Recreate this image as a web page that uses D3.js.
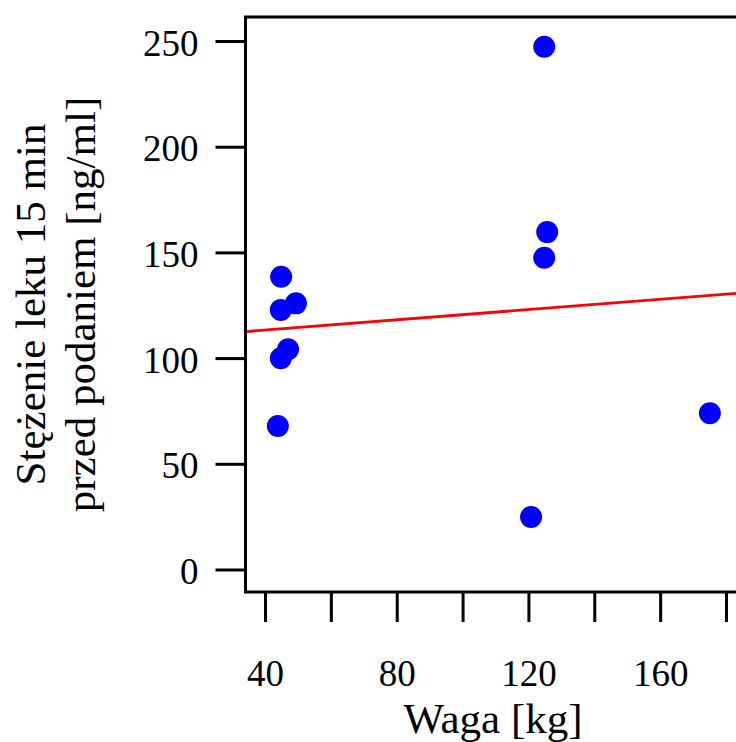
<!DOCTYPE html>
<html>
<head>
<meta charset="utf-8">
<script src="https://cdn.jsdelivr.net/npm/d3@7"></script>
<style>
  html, body { margin: 0; padding: 0; background: #fff; }
  svg { display: block; }
</style>
</head>
<body>
<svg id="chart" width="736" height="742"></svg>
<script>
// Body weight (kg) and drug concentration 15 min before dosing (ng/ml)
const weightKg = [43.9, 44.9, 44.8, 49.4, 47.0, 44.8, 120.8, 124.8, 125.7, 124.8, 175.1];
const concNgMl = [67.9, 138.5, 122.8, 125.9, 104.2, 99.9, 24.8, 247.3, 159.6, 147.5, 73.9];

// Fitted straight line: [intercept, slope]
const fitLine = [108.4, 0.1214];

const xTicks = [40, 60, 80, 100, 120, 140, 160, 180];
const xTickLabels = ["40", "", "80", "", "120", "", "160", ""];
const yTicks = [0, 50, 100, 150, 200, 250];
const yTickLabels = ["0", "50", "100", "150", "200", "250"];

const xTitle = "Waga [kg]";
const yTitleLines = ["Stężenie leku 15 min", "przed podaniem [ng/ml]"];

const W = 736, H = 742;
const frame = { left: 245.5, top: 17, right: 770, bottom: 592 };
const serif = "'Liberation Serif', 'Times New Roman', 'DejaVu Serif', serif";

const x = d3.scaleLinear().domain([40, 180]).range([265, 726]);
const y = d3.scaleLinear().domain([0, 250]).range([569.5, 41]);

const svg = d3.select("#chart");

// Regression line across the plotting region
const x0 = x.invert(frame.left), x1 = x.invert(W + 5);
svg.append("line")
  .attr("x1", x(x0)).attr("y1", y(fitLine[0] + fitLine[1] * x0))
  .attr("x2", x(x1)).attr("y2", y(fitLine[0] + fitLine[1] * x1))
  .attr("stroke", "#ff0000")
  .attr("stroke-width", 2.8);

// Points
svg.append("g")
  .selectAll("circle")
  .data(weightKg.map((w, i) => [w, concNgMl[i]]))
  .join("circle")
  .attr("cx", d => x(d[0]))
  .attr("cy", d => y(d[1]))
  .attr("r", 11)
  .attr("fill", "#0000ff");

// Box around the plot
svg.append("rect")
  .attr("x", frame.left).attr("y", frame.top)
  .attr("width", frame.right - frame.left)
  .attr("height", frame.bottom - frame.top)
  .attr("fill", "none")
  .attr("stroke", "#000")
  .attr("stroke-width", 3);

// Y axis
const yAxis = svg.append("g")
  .attr("transform", `translate(${frame.left},0)`)
  .call(d3.axisLeft(y).tickValues(yTicks).tickSize(30).tickPadding(17)
    .tickFormat((d, i) => yTickLabels[i]));
yAxis.select(".domain").remove();
yAxis.selectAll(".tick line").attr("stroke", "#000").attr("stroke-width", 3);
yAxis.selectAll(".tick text")
  .attr("dy", null).attr("y", 14)
  .attr("fill", "#000")
  .style("font-family", serif).style("font-size", "37px");

// X axis
const xAxis = svg.append("g")
  .attr("transform", `translate(0,${frame.bottom})`)
  .call(d3.axisBottom(x).tickValues(xTicks).tickSize(30)
    .tickFormat((d, i) => xTickLabels[i]));
xAxis.select(".domain").remove();
xAxis.selectAll(".tick line").attr("stroke", "#000").attr("stroke-width", 3);
xAxis.selectAll(".tick text")
  .attr("dy", null).attr("y", 94)
  .attr("fill", "#000")
  .style("font-family", serif).style("font-size", "37px");

// Axis titles
svg.append("text")
  .attr("x", 493).attr("y", 733)
  .attr("text-anchor", "middle")
  .style("font-family", serif).style("font-size", "43px")
  .text(xTitle);

const cy = (frame.top + frame.bottom) / 2;
svg.selectAll("text.ytitle")
  .data(yTitleLines)
  .join("text")
  .attr("class", "ytitle")
  .attr("transform", (d, i) => `translate(${45 + i * 50},${cy}) rotate(-90)`)
  .attr("text-anchor", "middle")
  .style("font-family", serif).style("font-size", "43px")
  .text(d => d);
</script>
</body>
</html>
